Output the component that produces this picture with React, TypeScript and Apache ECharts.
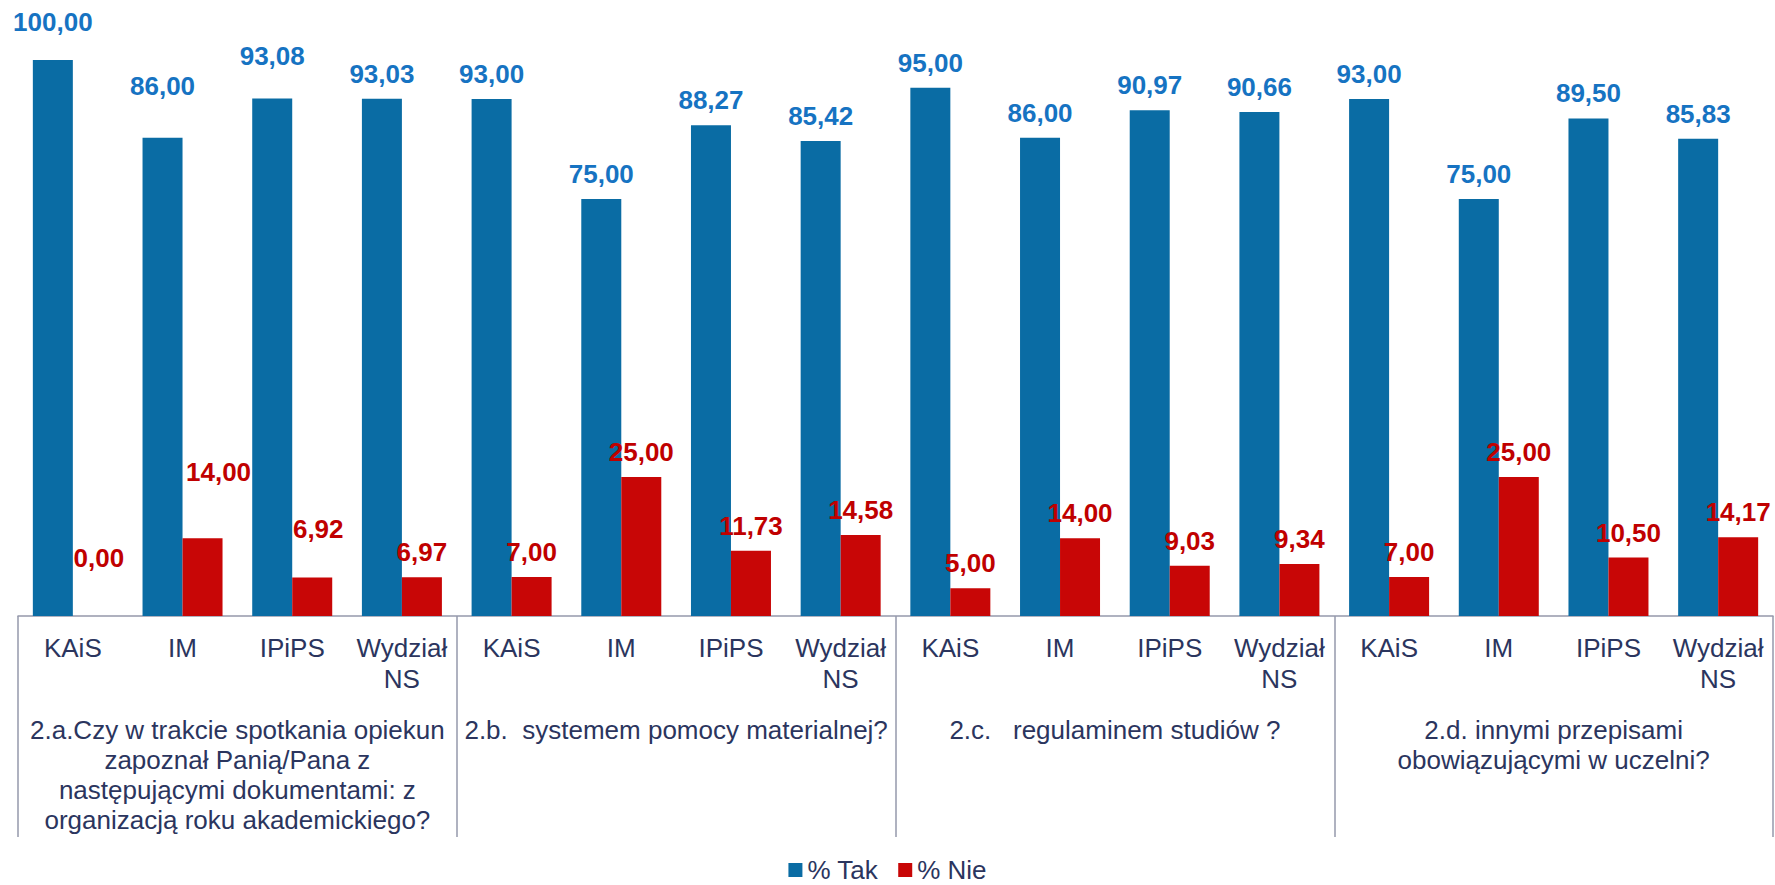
import React, { useEffect, useRef } from "react";
import * as echarts from "echarts";

const CATEGORIES = [
  "KAiS", "IM", "IPiPS", "Wydział\nNS",
  "KAiS", "IM", "IPiPS", "Wydział\nNS",
  "KAiS", "IM", "IPiPS", "Wydział\nNS",
  "KAiS", "IM", "IPiPS", "Wydział\nNS",
];

const GROUPS = [
  "2.a.Czy w trakcie spotkania opiekun\nzapoznał Panią/Pana z\nnastępującymi dokumentami: z\norganizacją roku akademickiego?",
  "2.b.  systemem pomocy materialnej?",
  "2.c.   regulaminem studiów ?",
  "2.d. innymi przepisami\nobowiązującymi w uczelni?",
];

const TAK = [100.0, 86.0, 93.08, 93.03, 93.0, 75.0, 88.27, 85.42, 95.0, 86.0, 90.97, 90.66, 93.0, 75.0, 89.5, 85.83];
const NIE = [0.0, 14.0, 6.92, 6.97, 7.0, 25.0, 11.73, 14.58, 5.0, 14.0, 9.03, 9.34, 7.0, 25.0, 10.5, 14.17];

// manual label nudges (px) as in the reference
const TAK_LABEL_LIFT = [13, 27, 17, 0, 0, 0, 0, 0, 0, 0, 0, 0, 0, 0, 0, 0];
const NIE_LABEL_LIFT = [33, 41, 24, 0, 0, 0, 0, 0, 0, 0, 0, 0, 0, 0, 0, 0];
const NIE_LABEL_SHIFT = [6, 16, 6, 0, 0, 0, 0, 0, 0, 0, 0, 0, 0, 0, 0, 0];

const FONT = "'Liberation Sans', Arial, sans-serif";
const TEXT_COLOR = "#2B355E";
const LINE_COLOR = "#9598AB";

const fmt = (p: any) => Number(p.value).toFixed(2).replace(".", ",");

export default function App() {
  const ref = useRef<HTMLDivElement>(null);

  useEffect(() => {
    if (!ref.current) return;
    const chart = echarts.init(ref.current, undefined, { renderer: "svg" });
    chart.setOption({
      animation: false,
      backgroundColor: "#ffffff",
      grid: { left: 18, right: 2, top: 60, bottom: 269, containLabel: false },
      legend: {
        bottom: 1,
        left: "center",
        padding: 0,
        itemWidth: 14,
        itemHeight: 14,
        itemGap: 20,
        icon: "rect",
        textStyle: { fontFamily: FONT, fontSize: 26, lineHeight: 28, color: TEXT_COLOR },
        data: ["% Tak", "% Nie"],
      },
      xAxis: [
        {
          type: "category",
          position: "bottom",
          data: CATEGORIES,
          axisLine: { show: true, lineStyle: { color: LINE_COLOR, width: 1.5 } },
          axisTick: { show: false },
          axisLabel: {
            interval: 0,
            margin: 16,
            fontFamily: FONT,
            fontSize: 26,
            lineHeight: 31,
            color: TEXT_COLOR,
            align: "center",
          },
        },
        {
          type: "category",
          position: "bottom",
          offset: 0,
          data: GROUPS,
          axisLine: { show: false },
          axisTick: {
            show: true,
            interval: 0,
            length: 221,
            lineStyle: { color: LINE_COLOR, width: 1.5 },
          },
          axisLabel: {
            interval: 0,
            margin: 99,
            fontFamily: FONT,
            fontSize: 26,
            lineHeight: 30,
            color: TEXT_COLOR,
            align: "center",
            verticalAlign: "top",
          },
        },
      ],
      yAxis: {
        type: "value",
        min: 0,
        max: 100,
        show: false,
        splitLine: { show: false },
      },
      series: [
        {
          name: "% Tak",
          type: "bar",
          xAxisIndex: 0,
          barWidth: 40,
          barGap: "0%",
          itemStyle: { color: "#0A6CA4" },
          label: {
            show: true,
            position: "top",
            distance: 12,
            formatter: fmt,
            fontFamily: FONT,
            fontSize: 26,
            fontWeight: "bold",
            color: "#1673C2",
          },
          data: TAK.map((v, i) => ({
            value: v,
            label: { offset: [0, -TAK_LABEL_LIFT[i]] },
          })),
        },
        {
          name: "% Nie",
          type: "bar",
          xAxisIndex: 0,
          barWidth: 40,
          barGap: "0%",
          itemStyle: { color: "#C80606" },
          label: {
            show: true,
            position: "top",
            distance: 12,
            formatter: fmt,
            fontFamily: FONT,
            fontSize: 26,
            fontWeight: "bold",
            color: "#C00000",
          },
          data: NIE.map((v, i) => ({
            value: v,
            label: { offset: [NIE_LABEL_SHIFT[i], -NIE_LABEL_LIFT[i]] },
          })),
        },
      ],
    });
    return () => chart.dispose();
  }, []);

  return (
    <div
      ref={ref}
      style={{ position: "absolute", left: 0, top: 0, width: 1775, height: 885 }}
    />
  );
}
